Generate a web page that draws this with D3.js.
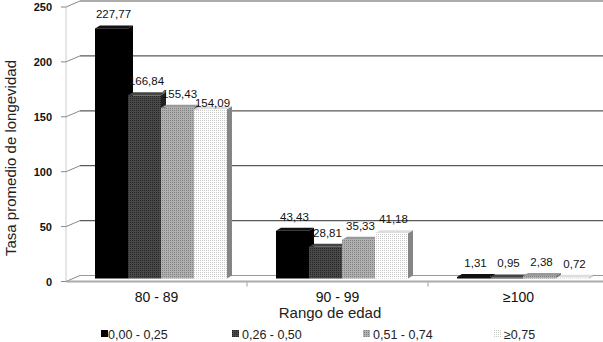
<!DOCTYPE html>
<html lang="es">
  <head>
    <meta charset="utf-8">
    <title>Tasa promedio de longevidad</title>
    <style>
      body { margin: 0; background: white; }
      svg { display: block; font-family: "Liberation Sans", Arial, sans-serif; }
      .tick-label { font-size: 11px; font-weight: bold; fill: #111; }
      .val { font-size: 11.5px; fill: #111; }
      .cat { font-size: 14px; fill: #111; }
      .title { font-size: 15px; fill: #222; }
      .leg { font-size: 12.5px; fill: #222; }
    </style>
    <script src="https://d3js.org/d3.v7.min.js"></script>
  </head>
  <body>
    <script>
    // data
    const categories = ["80 - 89", "90 - 99", "\u2265100"];
    const series = ["0,00 - 0,25", "0,26 - 0,50", "0,51 - 0,74", "\u22650,75"];
    const values = [
      [227.77, 166.84, 155.43, 154.09],
      [43.43, 28.81, 35.33, 41.18],
      [1.31, 0.95, 2.38, 0.72]
    ];
    const yTicks = [0, 50, 100, 150, 200, 250];

    const W = 603, H = 342;
    const x0Left = 66, x0Right = 609;
    const depthX = 14, depthY = -6;   // full depth of the 3d box
    const barW = 33, sideX = 5, sideY = -3;

    const svg = d3.select("body").append("svg")
      .attr("width", W).attr("height", H);

    const defs = svg.append("defs");
    function dotPattern(id, bg, fg) {
      const p = defs.append("pattern").attr("id", id)
        .attr("width", 2).attr("height", 2).attr("patternUnits", "userSpaceOnUse");
      p.append("rect").attr("width", 2).attr("height", 2).attr("fill", bg);
      p.append("rect").attr("width", 1).attr("height", 1).attr("fill", fg);
    }
    dotPattern("p1", "#4a4a4a", "#222");
    dotPattern("p2", "#b0b0b0", "#808080");
    dotPattern("p3", "#ffffff", "#c8c8c8");

    const fronts = ["#000", "url(#p1)", "url(#p2)", "url(#p3)"];
    const tops = ["#111", "#444", "#999", "#ddd"];
    const sides = ["#000", "#222", "#6a6a6a", "#858585"];

    const y = d3.scaleLinear().domain([0, 250]).range([281.5, 7]);
    const x0 = d3.scaleBand().domain(categories).range([x0Left, x0Right]);
    const pad = (x0.bandwidth() - barW * series.length) / 2;
    const x1 = d3.scaleBand().domain(series).range([pad, x0.bandwidth() - pad]);

    // back wall grid + diagonals
    const grid = svg.append("g");
    yTicks.forEach(t => {
      if (t > 0) {
        grid.append("line")
          .attr("x1", x0Left + depthX).attr("x2", W)
          .attr("y1", y(t) + depthY).attr("y2", y(t) + depthY)
          .attr("stroke", "#5a5a5a").attr("stroke-width", 1.2);
      }
      grid.append("line")
        .attr("x1", x0Left).attr("x2", x0Left + depthX)
        .attr("y1", y(t)).attr("y2", y(t) + depthY)
        .attr("stroke", "#888");
      grid.append("line")
        .attr("x1", x0Left - 5).attr("x2", x0Left)
        .attr("y1", y(t)).attr("y2", y(t))
        .attr("stroke", "#888");
      grid.append("text").attr("class", "tick-label")
        .attr("x", 52).attr("y", y(t) + 4)
        .attr("text-anchor", "end")
        .text(t);
    });

    // floor
    grid.append("line")
      .attr("x1", x0Left + depthX).attr("x2", W)
      .attr("y1", y(0) + depthY).attr("y2", y(0) + depthY)
      .attr("stroke", "#999");
    grid.append("line")
      .attr("x1", x0Left).attr("x2", x0Left)
      .attr("y1", y(0)).attr("y2", y(250))
      .attr("stroke", "#999").attr("stroke-dasharray", "1,1");
    grid.append("line")
      .attr("x1", x0Left).attr("x2", W)
      .attr("y1", y(0)).attr("y2", y(0))
      .attr("stroke", "#aaa").attr("stroke-width", 2);
    categories.slice(1).forEach(c => {
      grid.append("line")
        .attr("x1", x0(c)).attr("x2", x0(c))
        .attr("y1", y(0) + 1).attr("y2", y(0) + 5)
        .attr("stroke", "#999");
    });

    // bars, drawn part way into the depth
    const mx = 4.5, my = -3;
    const bars = svg.append("g");
    categories.forEach((c, ci) => {
      series.forEach((s, si) => {
        const v = values[ci][si];
        const xl = x0(c) + x1(s) + mx;
        const xr = xl + barW;
        const yt = y(v) + my;
        const yb = y(0) + my;
        bars.append("path")
          .attr("d", `M${xr},${yb}L${xr + sideX},${yb + sideY}L${xr + sideX},${yt + sideY}L${xr},${yt}Z`)
          .attr("fill", sides[si]);
        bars.append("path")
          .attr("d", `M${xl},${yt}L${xl + sideX},${yt + sideY}L${xr + sideX},${yt + sideY}L${xr},${yt}Z`)
          .attr("fill", tops[si]);
        bars.append("rect")
          .attr("x", xl).attr("y", yt)
          .attr("width", barW).attr("height", yb - yt)
          .attr("fill", fronts[si]);
      });
    });

    // value labels, nudged down when they run into the previous one
    categories.forEach((c, ci) => {
      let prev = null;
      series.forEach((s, si) => {
        const v = values[ci][si];
        const t = svg.append("text").attr("class", "val")
          .attr("x", x0(c) + x1(s) + mx + barW / 2 + 2)
          .attr("text-anchor", "middle")
          .text(d3.format(".2f")(v).replace(".", ","));
        let ty = y(v) + my - 10;
        const w = t.node().getComputedTextLength();
        const cx = +t.attr("x");
        if (prev && Math.abs(cx - prev.cx) < (w + prev.w) / 2 && Math.abs(ty - prev.ty) < 10) {
          ty = prev.ty + 9;
        }
        t.attr("y", ty);
        prev = { cx, w, ty };
      });
    });

    // category labels
    categories.forEach(c => {
      svg.append("text").attr("class", "cat")
        .attr("x", x0(c) + x0.bandwidth() / 2).attr("y", 302)
        .attr("text-anchor", "middle")
        .text(c);
    });

    svg.append("text").attr("class", "title")
      .attr("x", 330).attr("y", 318)
      .attr("text-anchor", "middle")
      .text("Rango de edad");

    svg.append("text").attr("class", "title")
      .attr("transform", "translate(16,158) rotate(-90)")
      .attr("text-anchor", "middle")
      .text("Tasa promedio de longevidad");

    // legend
    const leg = svg.append("g");
    series.forEach((s, si) => {
      const lx = 101 + si * 131;
      leg.append("rect")
        .attr("x", lx).attr("y", 330)
        .attr("width", 7).attr("height", 7)
        .attr("fill", fronts[si]);
      leg.append("text").attr("class", "leg")
        .attr("x", lx + (si ? 10 : 7)).attr("y", 338.5)
        .text(s);
    });
    </script>
  </body>
</html>
